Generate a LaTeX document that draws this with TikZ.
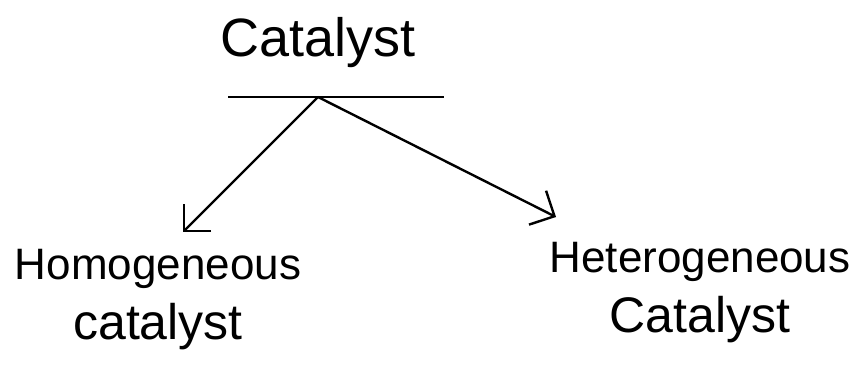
\documentclass[tikz,border=0pt]{standalone}
\usepackage{fontspec}
\setmainfont{Liberation Sans}
\usetikzlibrary{arrows.meta, positioning}

\newcommand{\bigline}[1]{{\fontsize{50}{60}\selectfont #1}}

\begin{document}
\begin{tikzpicture}[
  x=1pt, y=-1pt,
  word/.style={font=\fontsize{44}{60}\selectfont, inner sep=0pt, align=center},
  head/.style={font=\fontsize{54}{60}\selectfont, inner sep=0pt},
  bar/.style={line width=2.4pt},
  arr/.style={-{Straight Barb[length=19pt, width=38pt]}, line width=2.4pt}
]
\useasboundingbox (0,0) rectangle (858,369);

\node[head] (cat) at (318,43) {Catalyst};
\coordinate (barL) at (228,97);
\coordinate (barR) at (444,97);
\coordinate (hub) at (318,97);
\draw[bar] (barL) -- (barR);

\node[word] (homo) at (158,300) {Homogeneous\\\bigline{catalyst}};
\node[word] (hetero) at (700,293) {Heterogeneous\\\bigline{Catalyst}};
\coordinate (homotip) at (183,232);
\coordinate (heterotip) at (556,217);

\draw[arr] (hub) -- (homotip);
\draw[arr] (hub) -- (heterotip);

\end{tikzpicture}
\end{document}
